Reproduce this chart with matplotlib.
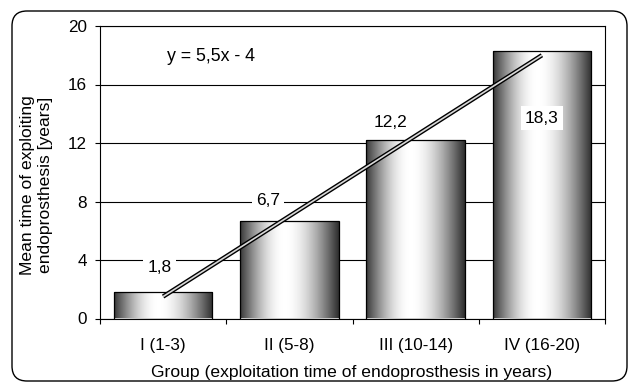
import matplotlib.pyplot as plt
import numpy as np
from matplotlib.patches import FancyBboxPatch

# data
groups = ['I (1-3)', 'II (5-8)', 'III (10-14)', 'IV (16-20)']
mean_years = [1.8, 6.7, 12.2, 18.3]
value_labels = ['1,8', '6,7', '12,2', '18,3']
trend_slope = 5.5
trend_intercept = -4
y_ticks = [0, 4, 8, 12, 16, 20]

plt.rcParams['font.family'] = ['Liberation Sans', 'DejaVu Sans']
plt.rcParams['font.size'] = 12.3

W, H = 629, 383
fig = plt.figure(figsize=(W / 100, H / 100), dpi=100)

# rounded border round the whole chart (inches, so the corners stay round)
frame = FancyBboxPatch((0.12, 0.02), 6.15, 3.70,
                       boxstyle='round,pad=0,rounding_size=0.15',
                       transform=fig.dpi_scale_trans, fill=False,
                       edgecolor='black', lw=1.0)
fig.patches.append(frame)

ax = fig.add_axes([100 / W, (H - 318.5) / H, 505 / W, 292.5 / H])

x = np.arange(1, len(groups) + 1)
bars = ax.bar(x, mean_years, width=0.78, color='none', edgecolor='black',
              lw=0.9, zorder=3)

# horizontal grey gradient inside each bar (dark - white - dark)
t = np.linspace(0, 1, 256)
shade = np.where(t < 0.45,
                 0.22 + 0.78 * np.sin(t / 0.45 * np.pi / 2),
                 0.18 + 0.82 * np.cos((t - 0.45) / 0.55 * np.pi / 2))
grad = np.tile(shade, (2, 1))
for b in bars:
    x0, y0, w, h = b.get_x(), b.get_y(), b.get_width(), b.get_height()
    im = ax.imshow(grad, cmap='gray', vmin=0, vmax=1, aspect='auto',
                   extent=[x0, x0 + w, y0, y0 + h], zorder=2,
                   interpolation='bilinear')
    im.set_clip_path(b)

# linear trend line (double line look)
tx = np.array([x[0], x[-1]])
ty = trend_slope * tx + trend_intercept
ax.plot(tx, ty, color='black', lw=3.2, solid_capstyle='butt', zorder=5)
ax.plot(tx, ty, color='#d8d8d8', lw=1.2, solid_capstyle='butt', zorder=6)
ax.text(1.03, 17.9, 'y = 5,5x - 4', ha='left', va='center', fontsize=12.8)

# data labels, placed as in the original
label_pos = [(-0.03, 3.5), (-0.17, 8.1), (-0.2, 13.4), (0.0, 13.7)]
for xi, lab, (dx, ly) in zip(x, value_labels, label_pos):
    ax.text(xi + dx, ly, lab, ha='center', va='center', fontsize=12.5,
            zorder=7, bbox=dict(facecolor='white', edgecolor='none', pad=3))

ax.set_xlim(0.5, len(groups) + 0.5)
ax.set_ylim(0, 20)
ax.set_yticks(y_ticks)
ax.set_xticks(x)
ax.set_xticklabels(groups)
ax.set_xticks(np.arange(0.5, len(groups) + 1), minor=True)
ax.tick_params(axis='x', which='major', length=0, pad=14)
ax.tick_params(axis='x', which='minor', length=3.8, direction='out', width=0.8)
ax.tick_params(axis='y', length=3.6, direction='out', width=0.8, pad=6)
for s in ax.spines.values():
    s.set_linewidth(0.8)
ax.grid(axis='y', color='black', lw=0.8, zorder=1)
ax.set_axisbelow(True)

fig.text(352 / W, 1 - 373 / H,
         'Group (exploitation time of endoprosthesis in years)',
         ha='center', va='center', fontsize=12.6)
fig.text(37 / W, 1 - 185 / H,
         'Mean time of exploiting\nendoprosthesis [years]',
         rotation=90, ha='center', va='center', fontsize=12.6,
         linespacing=1.25)

fig.savefig('out.png', dpi=100)
